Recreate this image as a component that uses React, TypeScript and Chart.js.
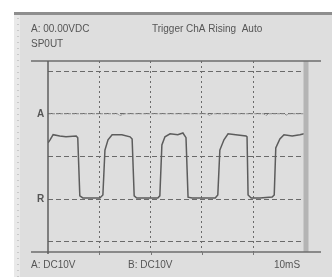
import React, { useEffect, useRef } from "react";
import { Chart, registerables } from "chart.js";

Chart.register(...registerables);

// Channel B trace (x in divisions, y in divisions)
const traceX = [0, 0.04, 0.1, 0.23, 0.35, 0.55, 0.58, 0.62, 0.68, 1.01, 1.07, 1.11, 1.17, 1.25, 1.44, 1.6, 1.64, 1.68, 1.73, 2.14, 2.18, 2.22, 2.28, 2.38, 2.53, 2.63, 2.69, 2.73, 2.81, 3.26, 3.31, 3.35, 3.43, 3.51, 3.66, 3.86, 3.88, 3.9, 3.96, 4.13, 4.37, 4.41, 4.44, 4.52, 4.6, 4.76, 4.91, 4.99];
const traceY = [2.32, 2.39, 2.51, 2.48, 2.46, 2.48, 2.44, 1.08, 1.03, 1.03, 1.1, 2.15, 2.39, 2.51, 2.51, 2.46, 2.41, 1.08, 1.03, 1.03, 1.08, 2.27, 2.46, 2.53, 2.51, 2.55, 2.44, 1.05, 1.03, 1.03, 1.1, 2.15, 2.39, 2.53, 2.51, 2.48, 2.46, 1.1, 1.03, 1.03, 1.05, 1.1, 2.2, 2.41, 2.51, 2.48, 2.51, 2.53];
// Channel A trace (near-flat)
const traceAX = [0, 1.35, 1.4, 1.45, 1.5, 3.1, 3.15, 3.2, 4.2, 4.25, 4.3, 4.6, 4.65, 4.7, 5];
const traceAY = [3.0, 3.0, 2.96, 2.98, 3.0, 3.0, 2.96, 3.0, 3.0, 2.96, 3.0, 3.0, 2.97, 3.0, 3.0];

const xTicks = [1, 2, 3, 4];
const yTicks = [0, 1, 2, 3, 4];
const xMin = 0, xMax = 5, yMin = -0.234, yMax = 4.234;

const topLeftText = "A: 00.00VDC";
const subText = "SP0UT";
const triggerText = "Trigger ChA Rising  Auto";
const bottomTexts = ["A: DC10V", "B: DC10V", "10mS"];
const levelLabels = [{ t: "A", v: 3 }, { t: "R", v: 1 }];

const panelPlugin = {
  id: "panel",
  beforeDraw(chart: any) {
    const ctx = chart.ctx;
    ctx.save();
    ctx.fillStyle = "#ffffff";
    ctx.fillRect(0, 0, 332, 277);
    ctx.fillStyle = "#dedede";
    ctx.fillRect(14, 12, 318, 265);
    ctx.fillStyle = "#e9e9e9";
    ctx.fillRect(14, 15, 6, 262);
    ctx.fillStyle = "#c8c8c8";
    for (let y = 18; y < 277; y += 6) ctx.fillRect(17, y, 2, 1);
    ctx.fillStyle = "#8e8e8e";
    ctx.fillRect(14, 12, 318, 3);
    ctx.restore();
  },
  afterDatasetsDraw(chart: any) {
    const ctx = chart.ctx;
    const xs = chart.scales.x;
    const ys = chart.scales.y;
    const top = ys.getPixelForValue(yMax);
    const bot = ys.getPixelForValue(yMin);
    const left = xs.getPixelForValue(xMin);
    const right = xs.getPixelForValue(xMax);
    ctx.save();
    // right bar
    ctx.fillStyle = "#b4b4b4";
    ctx.fillRect(right - 1, top, 5, bot - top);
    // top & bottom axis lines
    ctx.strokeStyle = "#6e6e6e";
    ctx.lineWidth = 1.5;
    ctx.beginPath();
    ctx.moveTo(31, top); ctx.lineTo(321, top);
    ctx.moveTo(31, bot); ctx.lineTo(321, bot);
    ctx.stroke();
    // left axis
    ctx.lineWidth = 1.5;
    ctx.strokeStyle = "#5e5e5e";
    ctx.beginPath();
    ctx.moveTo(left, top); ctx.lineTo(left, bot + 2);
    ctx.stroke();
    // small ticks
    ctx.lineWidth = 1;
    ctx.strokeStyle = "#777";
    ctx.beginPath();
    xTicks.forEach((v) => {
      const px = Math.round(xs.getPixelForValue(v)) + 0.5;
      ctx.moveTo(px, bot); ctx.lineTo(px, bot + 3);
    });
    ctx.stroke();
    // texts
    ctx.fillStyle = "#555";
    ctx.font = "10px 'Liberation Sans', Arial, sans-serif";
    ctx.textBaseline = "middle";
    ctx.textAlign = "left";
    ctx.fillText(topLeftText, 31, 29);
    ctx.fillText(subText, 31, 44);
    ctx.fillText(triggerText, 152, 29);
    ctx.fillText(bottomTexts[0], 31, 265);
    ctx.fillText(bottomTexts[1], 128, 265);
    ctx.fillText(bottomTexts[2], 274, 265);
    ctx.font = "bold 10px 'Liberation Sans', Arial, sans-serif";
    levelLabels.forEach((l) => ctx.fillText(l.t, 37, ys.getPixelForValue(l.v)));
    ctx.restore();
  },
};

export default function App() {
  const ref = useRef<HTMLCanvasElement>(null);
  useEffect(() => {
    if (!ref.current) return;
    const chart = new Chart(ref.current, {
      type: "line",
      data: {
        datasets: [
          {
            label: "A",
            data: traceAX.map((x, i) => ({ x, y: traceAY[i] })),
            borderColor: "#8a8a8a",
            borderWidth: 1,
            borderDash: [3, 1],
            pointRadius: 0,
            tension: 0,
          },
          {
            label: "B",
            data: traceX.map((x, i) => ({ x, y: traceY[i] })),
            borderColor: "#5c5c5c",
            borderWidth: 1.5,
            pointRadius: 0,
            tension: 0,
          },
        ],
      },
      plugins: [panelPlugin],
      options: {
        animation: false,
        responsive: false,
        maintainAspectRatio: false,
        layout: { padding: { left: 48, top: 61, right: 27.5, bottom: 25 } },
        plugins: { legend: { display: false }, tooltip: { enabled: false } },
        scales: {
          x: {
            type: "linear",
            min: xMin,
            max: xMax,
            afterBuildTicks: (s: any) => { s.ticks = xTicks.map((v) => ({ value: v })); },
            ticks: { display: false },
            grid: { color: "#6a6a6a", drawTicks: false, lineWidth: 1 },
            border: { display: false, dash: [2, 3] },
          },
          y: {
            type: "linear",
            min: yMin,
            max: yMax,
            afterBuildTicks: (s: any) => { s.ticks = yTicks.map((v) => ({ value: v })); },
            ticks: { display: false },
            grid: { color: "#6a6a6a", drawTicks: false, lineWidth: 1 },
            border: { display: false, dash: [5, 3] },
          },
        },
      },
    } as any);
    return () => chart.destroy();
  }, []);
  return (
    <div style={{ position: "absolute", left: 0, top: 0, width: 332, height: 277 }}>
      <canvas ref={ref} width={332} height={277} style={{ width: 332, height: 277, display: "block" }} />
    </div>
  );
}
